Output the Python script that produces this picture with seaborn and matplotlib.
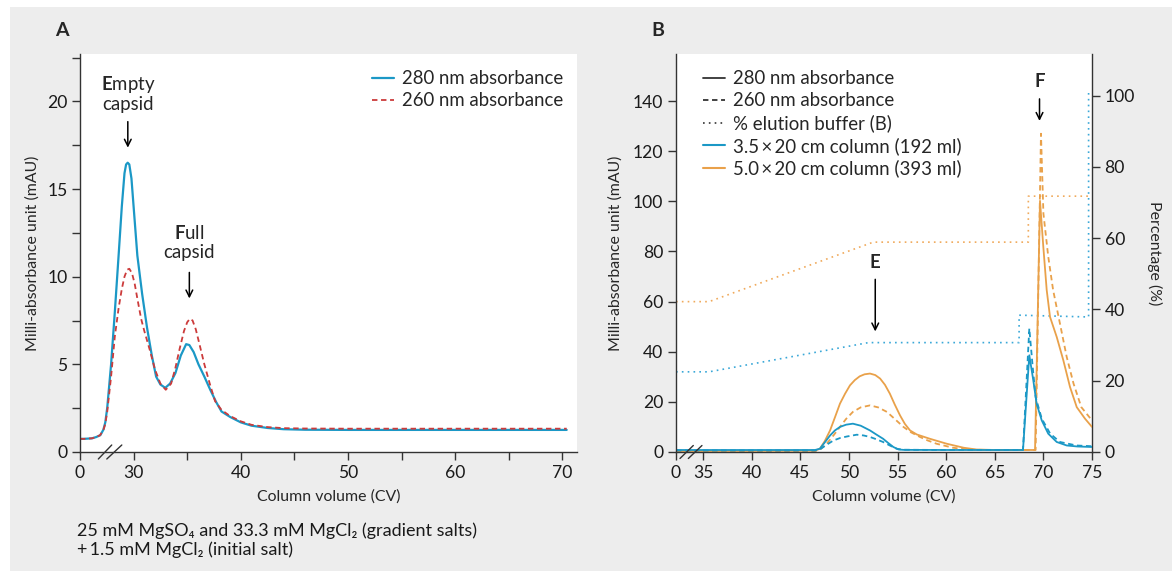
import numpy as np
import pandas as pd
import matplotlib
matplotlib.use("Agg")
import matplotlib.pyplot as plt
import seaborn as sns
from matplotlib.lines import Line2D
from matplotlib.patches import Rectangle

# ---------------- data : panel A ----------------
a280_x = [0, 10, 26.12, 26.5, 26.9, 27.18, 27.36, 27.54, 27.9, 28.25, 28.6, 28.9, 29.15, 29.3,
          29.45, 29.6, 29.8, 30.05, 30.35, 30.8, 31.25, 31.7, 32.1, 32.5, 32.95, 33.4, 33.9,
          34.4, 34.9, 35.2, 35.6, 36.05, 36.6, 37.15, 37.7, 38.2, 39.0, 40, 41, 42.5, 44, 46,
          50, 70.4]
a280_y = [0.75, 0.75, 0.78, 0.85, 0.96, 1.27, 1.69, 2.52, 5.0, 8.0, 11.2, 14.0, 15.9, 16.4,
          16.5, 16.4, 15.6, 13.6, 11.2, 9.0, 7.1, 5.5, 4.3, 3.85, 3.66, 3.9, 4.5,
          5.5, 6.15, 6.1, 5.7, 5.0, 4.3, 3.55, 2.85, 2.31, 2.0, 1.69, 1.5, 1.37, 1.3, 1.27,
          1.26, 1.26]
a260_x = [0, 10, 26.12, 26.5, 26.87, 27.18, 27.36, 27.54, 27.9, 28.25, 28.6, 28.9, 29.15, 29.4,
          29.6, 29.85, 30.1, 30.35, 30.7, 31.0, 31.5, 32.0, 32.5, 33.0, 33.5, 33.9, 34.3, 34.7,
          35.0, 35.25, 35.5, 35.8, 36.1, 36.6, 37.15, 37.6, 38.2, 39, 40, 41, 42.5, 44, 46,
          50, 70.4]
a260_y = [0.75, 0.75, 0.78, 0.85, 0.96, 1.25, 1.6, 2.3, 4.3, 6.6, 8.2, 9.3, 10.0, 10.4,
          10.45, 10.2, 9.6, 8.75, 7.6, 6.9, 5.84, 4.7, 3.9, 3.55, 3.9, 4.8, 5.9, 6.9,
          7.4, 7.6, 7.5, 7.0, 6.26, 5.0, 3.8, 2.9, 2.4, 2.05, 1.75, 1.55, 1.42, 1.36, 1.34,
          1.33, 1.33]

# ---------------- data : panel B ----------------
b35_280_x = [0, 35, 46.5, 47.0, 47.5, 48.05, 48.55, 49.07, 49.7, 50.4, 51.2, 52.16, 52.8, 53.5,
             54.0, 54.56, 55.1, 55.6, 60, 67.9,
             68.55, 68.96, 69.3, 69.83, 70.5, 71.37, 72.4, 73.5, 75]
b35_280_y = [0.8, 0.8, 0.8, 1.3, 3.8, 6.6, 8.6, 10.0, 10.9, 11.3, 10.5, 8.6, 7.0, 5.3,
             3.7, 2.0, 1.0, 0.85, 0.8, 0.8,
             38.6, 28.6, 19.3, 12.6, 7.3, 4.0, 2.6, 2.2, 2.0]
b35_260_x = [0, 35, 46.5, 47.0, 47.7, 48.4, 49.1, 49.8, 50.8, 51.5, 52.16, 52.8, 53.5, 54.2,
             54.9, 55.6, 60, 67.9,
             68.55, 68.9, 69.2, 69.83, 70.7, 71.7, 73.4, 75]
b35_260_y = [0.6, 0.6, 0.6, 1.0, 2.9, 4.6, 5.6, 6.2, 6.9, 6.6, 6.0, 5.1, 4.0, 2.6,
             1.3, 0.9, 0.8, 0.8,
             49.3, 33.9, 21.9, 13.3, 7.3, 4.0, 2.6, 2.3]
b50_280_x = [0, 35, 46.5, 47.0, 47.5, 48.05, 48.55, 49.07, 49.6, 50.1, 50.6, 51.1, 51.6, 52.16,
             52.7, 53.2, 53.7, 54.2, 54.7, 55.25, 55.75, 56.28, 56.97, 58.3, 60.05, 61.8, 63.1,
             65, 69.14, 69.65, 69.99, 70.34, 70.68, 71.37, 72.05, 72.74, 73.43, 74.28, 75]
b50_280_y = [0.4, 0.4, 0.5, 1.3, 4.3, 8.6, 13.8, 19.3, 23.3, 26.6, 28.7, 30.2, 31.0, 31.3,
             30.7, 29.3, 26.8, 23.3, 19.0, 14.6, 11.2, 8.6, 7.0, 5.3, 3.3, 1.7, 1.0,
             0.8, 0.8, 100.2, 81.9, 64.6, 53.9, 45.9, 36.6, 25.9, 17.9, 13.3, 10.0]
b50_260_x = [0, 35, 46.5, 47.0, 47.7, 48.4, 49.07, 49.7, 50.4, 51.2, 52.16, 53.0, 53.9, 54.7,
             55.6, 56.4, 57.3, 58.1, 59.0, 60.7, 62.4, 65, 69.2,
             69.75, 70.0, 70.5, 71.0, 71.7, 72.4, 73.1, 73.9, 75]
b50_260_y = [0.4, 0.4, 0.4, 0.9, 3.3, 6.6, 10.0, 13.2, 16.0, 17.8, 18.6, 17.8, 16.0, 13.2,
             10.0, 7.8, 6.0, 4.6, 3.3, 1.7, 0.9, 0.8, 0.8,
             127.0, 95.2, 77.9, 64.6, 51.3, 37.9, 27.3, 17.9, 12.6]
b35_pct_x = [0, 35.6, 52.0, 67.5, 67.5, 74.65, 74.65]
b35_pct_y = [22.5, 22.5, 30.7, 30.7, 38.4, 37.9, 101.0]
b50_pct_x = [0, 35.6, 52.5, 68.45, 68.45, 75]
b50_pct_y = [42.2, 42.2, 58.9, 58.9, 71.8, 71.8]

a_major = [0, 30, 40, 50, 60, 70]
a_minor = [35, 45, 55, 65]
a_yticks = [0, 5, 10, 15, 20]
a_yminor = [2.5, 7.5, 12.5, 17.5, 22.5]
b_xticks = [0, 35, 40, 45, 50, 55, 60, 65, 70, 75]
b_yticks = [0, 20, 40, 60, 80, 100, 120, 140]
b_pticks = [0, 20, 40, 60, 80, 100]

footnote = ("25 mM MgSO\u2084 and 33.3 mM MgCl\u2082 (gradient salts)\n"
            "+\u20091.5 mM MgCl\u2082 (initial salt)")

# ---------------- style ----------------
sns.set_style("ticks")
plt.rcParams["font.family"] = ["Lato", "DejaVu Sans"]
plt.rcParams["mathtext.fontset"] = "custom"
plt.rcParams["mathtext.rm"] = "Lato"
plt.rcParams["mathtext.bf"] = "Lato:bold"
plt.rcParams["axes.edgecolor"] = "#333333"
plt.rcParams["axes.linewidth"] = 1.0
plt.rcParams["xtick.color"] = "#333333"
plt.rcParams["ytick.color"] = "#333333"
plt.rcParams["xtick.labelcolor"] = "#1a1a1a"
plt.rcParams["ytick.labelcolor"] = "#1a1a1a"

BLUE = "#1b98c6"
ORANGE = "#e9a14a"
RED = "#cc3b3b"
LBLUE = "#3aa8d8"
LORANGE = "#f0aa5c"
DASH = (0, (3, 2))
DOT = (0, (1, 2.5))

W, H = 1172, 571
fig = plt.figure(figsize=(W / 100, H / 100), dpi=100, facecolor="white")
fig.patches.append(Rectangle((10 / W, 0), 1, 1 - 7 / H, transform=fig.transFigure,
                             facecolor="#ededed", edgecolor="none", zorder=-10))


def rect(l, t, r, b):
    return [l / W, 1 - b / H, (r - l) / W, (b - t) / H]


TICKFS = 12.6
LABFS = 11.4
LEGFS = 13.4
ANNFS = 13.4

# ================= Panel A =================
axA = fig.add_axes(rect(80, 54, 577, 452))
axA.set_facecolor("white")


def fwdA(x):
    x = np.asarray(x, dtype=float)
    return np.where(x < 26, x / 26.0, x - 25.0)


def invA(u):
    u = np.asarray(u, dtype=float)
    return np.where(u < 1, u * 26.0, u + 25.0)


axA.set_xscale("function", functions=(fwdA, invA))

sns.lineplot(x=a280_x, y=a280_y, ax=axA, color=BLUE, lw=1.6, estimator=None, sort=False)
sns.lineplot(x=a260_x, y=a260_y, ax=axA, color=RED, lw=1.3, linestyle=DASH,
             estimator=None, sort=False)
axA.set_xlim(0, 71.36)
axA.set_ylim(0, 22.7)
axA.set_xticks(a_major)
axA.set_xticklabels([str(v) for v in a_major])
axA.set_xticks(a_minor, minor=True)
axA.set_yticks(a_yticks)
axA.set_yticks(a_yminor, minor=True)
for s in ["top", "right"]:
    axA.spines[s].set_visible(False)
axA.tick_params(which="both", direction="out", length=6, width=1, labelsize=TICKFS, pad=3)
axA.set_xlabel("Column volume (CV)", fontsize=LABFS, va="center")
axA.xaxis.set_label_coords(0.5, -0.113)
axA.set_ylabel("Milli-absorbance unit (mAU)", fontsize=LABFS, va="center")
axA.yaxis.set_label_coords(-(80 - 33) / 497, 0.5)

# axis break marks
for u0, u1 in [(1.71, 2.96), (2.5, 3.9)]:
    axA.plot([u0 / 46.36, u1 / 46.36], [-7 / 398, 7 / 398],
             transform=axA.transAxes, color="#333333", lw=1.0, clip_on=False)

axA.legend(handles=[Line2D([], [], color=BLUE, lw=1.6),
                    Line2D([], [], color=RED, lw=1.3, linestyle=DASH)],
           labels=["280 nm absorbance", "260 nm absorbance"],
           loc="upper right", bbox_to_anchor=(563 / W, 1 - 70.5 / H),
           bbox_transform=fig.transFigure, frameon=False, fontsize=LEGFS,
           handlelength=1.2, handletextpad=0.4, labelspacing=0.26, borderpad=0,
           borderaxespad=0)

axA.text(29.46, 20.45, "$\\mathbf{E}$mpty\ncapsid", ha="center", va="center",
         fontsize=ANNFS, linespacing=1.12)
axA.annotate("", xy=(29.46, 17.2), xytext=(29.46, 19.0),
             arrowprops=dict(arrowstyle="->", color="black", lw=1.1, mutation_scale=12))
axA.text(35.2, 11.96, "$\\mathbf{F}$ull\ncapsid", ha="center", va="center",
         fontsize=ANNFS, linespacing=1.12)
axA.annotate("", xy=(35.2, 8.6), xytext=(35.2, 10.4),
             arrowprops=dict(arrowstyle="->", color="black", lw=1.1, mutation_scale=12))

# ================= Panel B =================
axB = fig.add_axes(rect(676, 54, 1092, 452))
axB.set_facecolor("white")


def fwdB(x):
    x = np.asarray(x, dtype=float)
    return np.where(x < 35, x * 2.8 / 35.0, x - 32.2)


def invB(u):
    u = np.asarray(u, dtype=float)
    return np.where(u < 2.8, u * 35.0 / 2.8, u + 32.2)


axB.set_xscale("function", functions=(fwdB, invB))
axP = axB.twinx()

sns.lineplot(x=b35_pct_x, y=b35_pct_y, ax=axP, color=LBLUE, lw=1.2, linestyle=DOT,
             estimator=None, sort=False)
sns.lineplot(x=b50_pct_x, y=b50_pct_y, ax=axP, color=LORANGE, lw=1.2, linestyle=DOT,
             estimator=None, sort=False)
axP.set_zorder(axB.get_zorder() - 1)
axB.patch.set_visible(False)
axP.patch.set_visible(True)
axP.patch.set_facecolor("white")

sns.lineplot(x=b50_280_x, y=b50_280_y, ax=axB, color=ORANGE, lw=1.3, estimator=None, sort=False)
sns.lineplot(x=b50_260_x, y=b50_260_y, ax=axB, color=ORANGE, lw=1.3, linestyle=DASH,
             estimator=None, sort=False)
sns.lineplot(x=b35_280_x, y=b35_280_y, ax=axB, color=BLUE, lw=1.3, estimator=None, sort=False)
sns.lineplot(x=b35_260_x, y=b35_260_y, ax=axB, color=BLUE, lw=1.3, linestyle=DASH,
             estimator=None, sort=False)

axB.set_xlim(0, 75)
axB.set_ylim(0, 158.8)
axP.set_ylim(0, 111.7)
axB.set_xticks(b_xticks)
axB.set_xticklabels([str(v) for v in b_xticks])
axB.set_yticks(b_yticks)
axP.set_yticks(b_pticks)
axB.spines["top"].set_visible(False)
axP.spines["top"].set_visible(False)
axB.spines["right"].set_visible(False)
axP.spines["left"].set_visible(False)
axP.spines["bottom"].set_visible(False)
axB.tick_params(which="both", direction="out", length=6, width=1, labelsize=TICKFS, pad=3)
axP.tick_params(which="both", direction="out", length=6, width=1, labelsize=TICKFS, pad=3)
axB.set_xlabel("Column volume (CV)", fontsize=LABFS, va="center")
axB.xaxis.set_label_coords(0.5, -0.113)
axB.set_ylabel("Milli-absorbance unit (mAU)", fontsize=LABFS, va="center")
axB.yaxis.set_label_coords(-(676 - 616) / 416, 0.5)
axP.set_ylabel("Percentage (%)", fontsize=LABFS, rotation=270, va="center")
axP.yaxis.set_label_coords((1154.5 - 676) / 416, 0.5)

for u0, u1 in [(0.41, 1.78), (1.27, 2.67)]:
    axB.plot([u0 / 42.8, u1 / 42.8], [-6.5 / 398, 6.5 / 398],
             transform=axB.transAxes, color="#333333", lw=1.0, clip_on=False)

axB.legend(handles=[Line2D([], [], color="#333333", lw=1.3),
                    Line2D([], [], color="#333333", lw=1.3, linestyle=DASH),
                    Line2D([], [], color="#333333", lw=1.2, linestyle=DOT),
                    Line2D([], [], color=BLUE, lw=1.5),
                    Line2D([], [], color=ORANGE, lw=1.5)],
           labels=["280 nm absorbance", "260 nm absorbance", "% elution buffer (B)",
                   "3.5\u2009\u00d7\u200920 cm column (192 ml)",
                   "5.0\u2009\u00d7\u200920 cm column (393 ml)"],
           loc="upper left", bbox_to_anchor=(703 / W, 1 - 70.5 / H),
           bbox_transform=fig.transFigure, frameon=False, fontsize=LEGFS,
           handlelength=1.2, handletextpad=0.4, labelspacing=0.26, borderpad=0,
           borderaxespad=0)

axB.text(52.7, 75.7, "E", ha="center", va="center", fontsize=ANNFS, fontweight="bold")
axB.annotate("", xy=(52.7, 47.0), xytext=(52.7, 70.0),
             arrowprops=dict(arrowstyle="->", color="black", lw=1.1, mutation_scale=12))
axB.text(69.6, 147.7, "F", ha="center", va="center", fontsize=ANNFS, fontweight="bold")
axB.annotate("", xy=(69.6, 131.0), xytext=(69.6, 142.0),
             arrowprops=dict(arrowstyle="->", color="black", lw=1.1, mutation_scale=12))

# panel letters and footnote
fig.text(62 / W, 1 - 30.5 / H, "A", ha="center", va="center", fontsize=14, fontweight="bold")
fig.text(657.5 / W, 1 - 30.5 / H, "B", ha="center", va="center", fontsize=14, fontweight="bold")
fig.text(77 / W, 1 - 540.5 / H, footnote, ha="left", va="center", fontsize=13,
         linespacing=1.15, color="#1a1a1a")

fig.savefig("out.png", dpi=100, facecolor=fig.get_facecolor())
